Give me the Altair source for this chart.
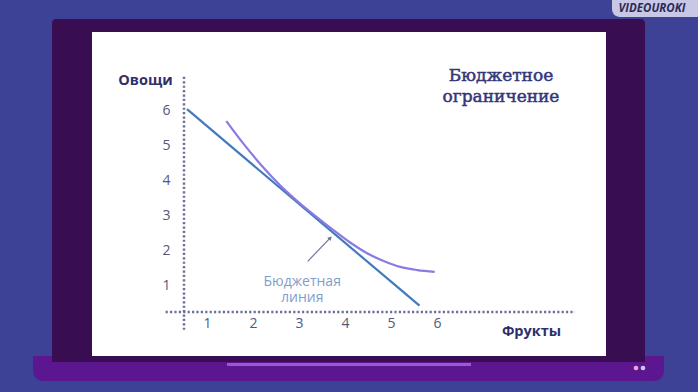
import altair as alt
import pandas as pd

# ---- data ----
x_ticks = [1, 2, 3, 4, 5, 6]
y_ticks = [1, 2, 3, 4, 5, 6]

budget_x = [0.565, 5.62]
budget_y = [6.05, 0.43]

curve_x = [1.42, 1.80, 2.20, 2.60, 3.00, 3.40, 3.72, 4.12, 4.48, 4.84, 5.20, 5.57, 5.95]
curve_y = [5.71, 5.05, 4.42, 3.86, 3.38, 2.95, 2.62, 2.23, 1.93, 1.71, 1.54, 1.45, 1.40]

label_lines = ["Бюджетная", "линия"]
label_x = [3.07]
label_y = [1.12]

arrow_x, arrow_y = [3.19], [1.70]
arrow_x2, arrow_y2 = [3.68], [2.37]

# dotted axis lines (the axes cross at x=0.5, y=0.25)
vline_x, vline_y, vline_y2 = [0.5], [-0.26], [7.0]
hline_y, hline_x, hline_x2 = [0.25], [0.1], [9.0]

title_lines = ["Бюджетное", "ограничение"]

xs = alt.Scale(domain=[0.5, 9], nice=False, zero=False)
ys = alt.Scale(domain=[0.25, 7], nice=False, zero=False)

one = pd.DataFrame({"d": [0]})

BLUE = "#3e4296"
FRAME = "#380d52"
BASE = "#5c168f"

x_axis = alt.Axis(values=x_ticks, domain=False, ticks=False, tickSize=0, grid=False,
                  labelPadding=4, labelFontSize=14, labelColor="#55577a", labelFont="Open Sans",
                  title="Фрукты", titleFont="Open Sans", titleFontSize=14.5, titleFontWeight="bold",
                  titleColor="#2e2f6b", titleX=347, titleY=19, titleAlign="center",
                  titleBaseline="middle", zindex=2)
y_axis = alt.Axis(values=y_ticks, domain=False, ticks=False, tickSize=0, grid=False,
                  labelPadding=14, labelFontSize=14, labelColor="#55577a", labelFont="Open Sans",
                  title="Овощи", titleFont="Open Sans", titleFontSize=14.5, titleFontWeight="bold",
                  titleColor="#2e2f6b", titleAngle=0, titleX=-39, titleY=4, titleAlign="center",
                  titleBaseline="middle", zindex=2)

def X(f="x"):
    return alt.X(f"{f}:Q", scale=xs, axis=x_axis)

def Y(f="y"):
    return alt.Y(f"{f}:Q", scale=ys, axis=y_axis)

def rect(x, x2, y, y2, color, **kw):
    return alt.Chart(one).mark_rect(color=color, **kw).encode(
        x=alt.value(x), x2=alt.value(x2), y=alt.value(y), y2=alt.value(y2))

# decorative laptop frame (pixel positions relative to the plot origin at 184,76)
base = rect(-151, 480, 280, 305, BASE, cornerRadiusBottomLeft=10, cornerRadiusBottomRight=10)
body = rect(-132, 461, -57, 286, FRAME, cornerRadiusTopLeft=4, cornerRadiusTopRight=4)
screen = rect(-92, 422, -44, 280, "white")
bar = rect(43, 287, 287, 290, "#9b58d6")
tab = rect(428, 520, -84, -59, "#c9c7e6", cornerRadius=8)
logo = alt.Chart(one).mark_text(
    text="VIDEOUROKI", font="Open Sans", fontSize=11.5, fontStyle="italic",
    fontWeight="bold", color="#2b2b55", align="center", baseline="middle"
).encode(x=alt.value(468), y=alt.value(-67))
dot1 = alt.Chart(one).mark_point(filled=True, size=22, color="#f2a6cc", opacity=1).encode(
    x=alt.value(452), y=alt.value(292))
dot2 = alt.Chart(one).mark_point(filled=True, size=22, color="#c6cdf4", opacity=1).encode(
    x=alt.value(459), y=alt.value(292))

# chart title (two lines, top right of the screen)
TITLE_C = "#34367a"
title = alt.Chart(pd.DataFrame({"t": ["\n".join(title_lines)]})).mark_text(
    font="DejaVu Serif", fontSize=17, fontWeight="normal", color=TITLE_C, stroke=TITLE_C,
    strokeWidth=0.5, align="center", baseline="middle", lineBreak="\n", lineHeight=21
).encode(x=alt.value(317), y=alt.value(0), text="t:N")

DOT = "#6b7099"
vline = alt.Chart(pd.DataFrame({"x": vline_x, "y": vline_y, "y2": vline_y2})).mark_rule(
    color=DOT, strokeWidth=2.5, strokeDash=[2.2, 2.2]
).encode(x=X(), y=Y(), y2="y2:Q")
hline = alt.Chart(pd.DataFrame({"y": hline_y, "x": hline_x, "x2": hline_x2})).mark_rule(
    color=DOT, strokeWidth=2.5, strokeDash=[2.2, 2.2]
).encode(y=Y(), x=X(), x2="x2:Q")

budget = alt.Chart(pd.DataFrame({"x": budget_x, "y": budget_y})).mark_line(
    color="#4379bd", strokeWidth=2.2
).encode(x=X(), y=Y())

curve = alt.Chart(pd.DataFrame({"x": curve_x, "y": curve_y})).mark_line(
    color="#8b7ae4", strokeWidth=2.2, interpolate="monotone"
).encode(x=X(), y=Y())

arrow = alt.Chart(pd.DataFrame({"x": arrow_x, "y": arrow_y, "x2": arrow_x2, "y2": arrow_y2})).mark_rule(
    color="#6f7692", strokeWidth=1.2
).encode(x=X(), y=Y(), x2="x2:Q", y2="y2:Q")
head = alt.Chart(pd.DataFrame({"x": arrow_x2, "y": arrow_y2})).mark_point(
    shape="triangle-up", angle=45, size=22, filled=True, color="#6f7692", opacity=1
).encode(x=X(), y=Y())

label = alt.Chart(pd.DataFrame({"t": ["\n".join(label_lines)], "x": label_x, "y": label_y})).mark_text(
    font="Open Sans", fontSize=14, color="#7f9dcb", align="center", baseline="middle",
    lineBreak="\n", lineHeight=16.5
).encode(x=X(), y=Y(), text="t:N")

chart = alt.layer(
    base, body, screen, bar, tab, logo, dot1, dot2, title,
    vline, hline, budget, curve, arrow, head, label
).properties(
    width=391, height=236,
    padding={"left": 184, "top": 76, "right": 123, "bottom": 80},
    autosize=alt.AutoSizeParams(type="none"),
    background=BLUE,
).configure_view(strokeWidth=0)

chart.save("out.html", embed_options={"renderer": "svg", "actions": False})
